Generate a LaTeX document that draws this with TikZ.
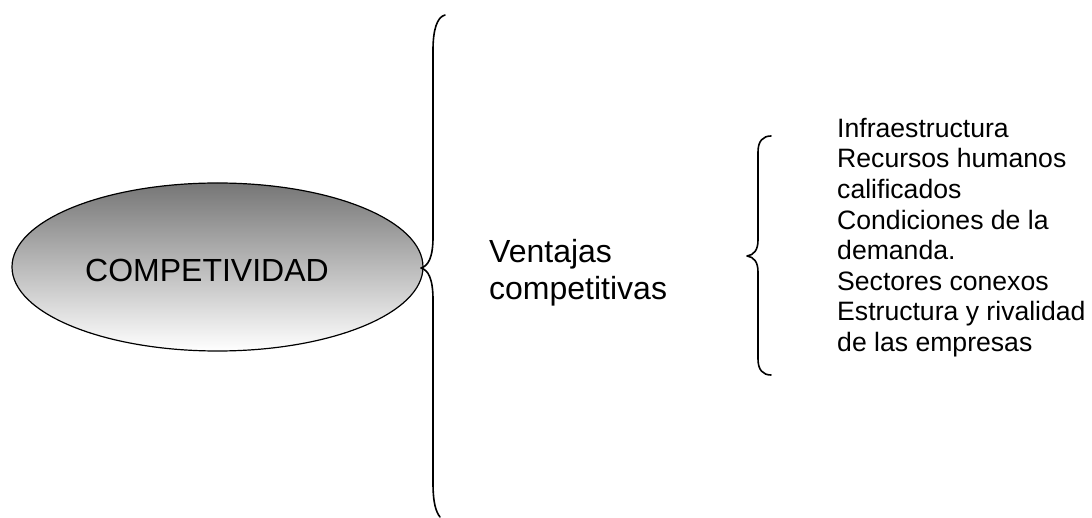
\documentclass[tikz,border=0pt]{standalone}
\usepackage{fontspec}
\setmainfont{Liberation Sans}
\usetikzlibrary{shapes.geometric}
\definecolor{shadetop}{RGB}{118,118,118}
\tikzset{
  bracestyle/.style={line width=1.6pt, line cap=round, line join=round},
  ovalstyle/.style={ellipse, draw=black, line width=1.2pt, top color=shadetop, bottom color=white, minimum width=411pt, minimum height=168pt, inner sep=0pt},
  bigtext/.style={font=\fontsize{32}{36.5}\selectfont, inner sep=0pt, align=left},
  listtext/.style={font=\fontsize{26.6}{30.6}\selectfont, inner sep=0pt, align=left}
}
\begin{document}
\begin{tikzpicture}[x=1pt,y=-1pt]
\useasboundingbox (0,0) rectangle (1092,518);
\node[ovalstyle] (oval) at (217.5,267) {};
\node[bigtext, anchor=base west] (comp) at (85,281.7) {COMPETIVIDAD};
\node[bigtext, anchor=base west] (vent) at (489,299.5) {Ventajas\\competitivas};
\node[listtext, anchor=base west] (list) at (837,351.5) {Infraestructura\\Recursos humanos\\calificados\\Condiciones de la\\demanda.\\Sectores conexos\\Estructura y rivalidad\\de las empresas};
% big brace
\coordinate (btop) at (445,15);
\coordinate (btip) at (421,268);
\coordinate (bbot) at (440,517);
\draw[bracestyle] (btop) .. controls (437,17) and (433,30) .. (433,50) -- (433,237)
  .. controls (433,258) and (428,266) .. (btip)
  .. controls (428,270) and (433,278) .. (433,300) -- (433,483)
  .. controls (433,503) and (436,512) .. (bbot);
% small brace
\coordinate (stop) at (771,136);
\coordinate (stip) at (747,256);
\coordinate (sbot) at (771,375);
\draw[bracestyle] (stop) .. controls (763,136) and (758,141) .. (758,152) -- (758,240)
  .. controls (758,250) and (754,255) .. (stip)
  .. controls (754,257) and (758,262) .. (758,272) -- (758,359)
  .. controls (758,370) and (763,375) .. (sbot);
\end{tikzpicture}
\end{document}
